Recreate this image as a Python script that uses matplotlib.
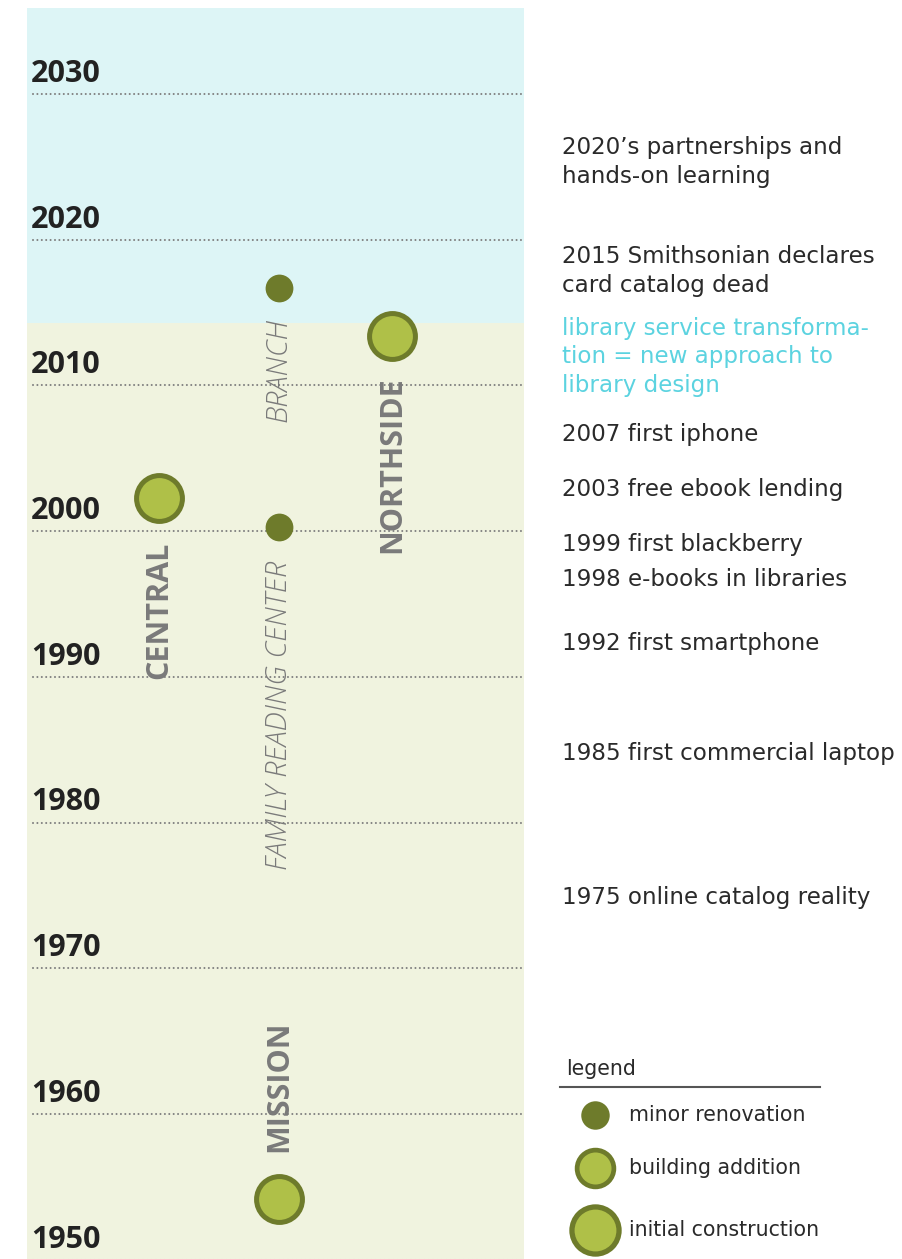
import matplotlib
matplotlib.use("Agg")
import matplotlib.pyplot as plt
import matplotlib.transforms as mtransforms
import matplotlib.font_manager as fm

plt.rcParams['font.family'] = ['Open Sans', 'DejaVu Sans']

# ---------------- data ----------------
decades = [1950, 1960, 1970, 1980, 1990, 2000, 2010, 2020, 2030]

branches = ["BRANCH", "NORTHSIDE", "CENTRAL", "FAMILY READING CENTER", "MISSION"]
branch_x = [2, 3, 1, 2, 2]                     # column index
event_year = [2016.7, 2013.4, 2002.3, 2000.3, 1954.2]
event_type = ["minor", "addition", "addition", "minor", "addition"]
label_top = [2014.6, 2010.65, 1999.3, 1997.95, 1966.4]
label_style = ["light", "bold", "bold", "light", "bold"]

future_start = 2014.3
y_min, y_max = 1950.05, 2035.9

tech_events = [
    "2020\u2019s partnerships and\nhands-on learning",
    "2015 Smithsonian declares\ncard catalog dead",
    "library service transforma-\ntion = new approach to\nlibrary design",
    "2007 first iphone",
    "2003 free ebook lending",
    "1999 first blackberry",
    "1998 e-books in libraries",
    "1992 first smartphone",
    "1985 first commercial laptop",
    "1975 online catalog reality",
]
tech_y = [2025.36, 2017.86, 2011.95, 2006.62, 2002.85, 1999.07, 1996.67, 1992.27, 1984.75, 1974.85]
tech_highlight = [False, False, True, False, False, False, False, False, False, False]

legend_labels = ["minor renovation", "building addition", "initial construction"]

# ---------------- fonts ----------------
def _w(v):
    if isinstance(v, (int, float)):
        return float(v)
    return float(fm.weight_dict.get(str(v), 400))

def font(name, weight=400, style="normal", size=12, fallback=("DejaVu Sans",)):
    cands = [f for f in fm.fontManager.ttflist
             if f.name == name and f.style == style and str(f.stretch) in ("normal", "400")]
    if not cands:
        cands = [f for f in fm.fontManager.ttflist if f.name == name and f.style == style]
    if cands:
        best = min(cands, key=lambda f: abs(_w(f.weight) - weight))
        return fm.FontProperties(fname=best.fname, size=size)
    return fm.FontProperties(family=list(fallback), weight=weight, style=style, size=size)

# ---------------- style ----------------
DARK = "#6E7B2B"
LIGHT = "#AFC048"
CYAN_BG = "#DDF5F6"
GREEN_BG = "#F0F3DF"
GREY = "#7A7A7A"
TXT = "#2A2A2A"
CYAN_TXT = "#5CD3E0"

fp_year = font("Open Sans", 700, size=22)
fp_bold_lab = font("Open Sans", 700, size=22)
fp_light_lab = font("Open Sans", 300, "italic", size=21)
fp_side = fm.FontProperties(family=["DejaVu Sans"], size=16.6)
fp_leg = fm.FontProperties(family=["DejaVu Sans"], size=14.8)

W, H = 902, 1259
fig = plt.figure(figsize=(W / 100, H / 100), dpi=100)
fig.patch.set_facecolor("white")

ax_left, ax_right = 27 / W, 524 / W
ax = fig.add_axes([ax_left, 0.0, ax_right - ax_left, 1 - 8 / H])
ax.set_xlim(0.0, 4.0)  # columns
ax.set_ylim(y_min, y_max)
ax.axis("off")

# background bands
ax.axhspan(future_start, y_max, color=CYAN_BG, zorder=0, lw=0)
ax.axhspan(y_min, future_start, color=GREEN_BG, zorder=0, lw=0)

col_px = {1: 159, 2: 279, 3: 392}
def col_to_x(c):
    return (col_px[c] - 27) / (524 - 27) * 4.0

# decade lines + labels
for d in decades:
    ax.plot([(33 - 27) / 497 * 4, 4.0], [d, d], ls=(0, (0.01, 2.1)), color="#808080",
            lw=1.5, zorder=1, dash_capstyle="round", solid_capstyle="round")
    ax.text((31 - 27) / 497 * 4, d + 0.35, str(d), fontproperties=fp_year,
            color="#222222", ha="left", va="bottom", zorder=3)

# event markers
for b, c, yr, t in zip(branches, branch_x, event_year, event_type):
    x = col_to_x(c)
    if t == "minor":
        ax.scatter([x], [yr], s=400, color=DARK, lw=0, zorder=4)
    else:
        ax.scatter([x], [yr], s=1090, color=LIGHT, edgecolor=DARK, lw=3.6, zorder=4)

# branch labels
for b, c, top, st in zip(branches, branch_x, label_top, label_style):
    x = col_to_x(c)
    ax.text(x, top, b, rotation=90, ha="center", va="top",
            fontproperties=fp_bold_lab if st == "bold" else fp_light_lab,
            color=GREY, zorder=3)

# right-hand technology events
trans = mtransforms.blended_transform_factory(fig.transFigure, ax.transData)
for txt, yv, hl in zip(tech_events, tech_y, tech_highlight):
    fig.text(562 / W, yv, txt, transform=trans, fontproperties=fp_side,
             color=CYAN_TXT if hl else TXT, ha="left", va="center",
             linespacing=1.33)

# legend (drawn in pixel-space overlay)
ov = fig.add_axes([0, 0, 1, 1], facecolor="none")
ov.set_xlim(0, W)
ov.set_ylim(H, 0)
ov.axis("off")
ov.text(566, 1069, "legend", fontproperties=fp_leg, color=TXT, ha="left", va="center")
ov.plot([560, 820], [1087, 1087], color="#555555", lw=1.5)
leg_y = [1115, 1168, 1230]
leg_sizes = [420, 700, 1150]
leg_edge = [0, 3.4, 3.8]
for lab, ly, s, lw in zip(legend_labels, leg_y, leg_sizes, leg_edge):
    if lw == 0:
        ov.scatter([595], [ly], s=s, color=DARK, lw=0)
    else:
        ov.scatter([595], [ly], s=s, color=LIGHT, edgecolor=DARK, lw=lw)
    ov.text(629, ly, lab, fontproperties=fp_leg, color=TXT, ha="left", va="center")

fig.savefig("out.png", dpi=100, facecolor="white")
